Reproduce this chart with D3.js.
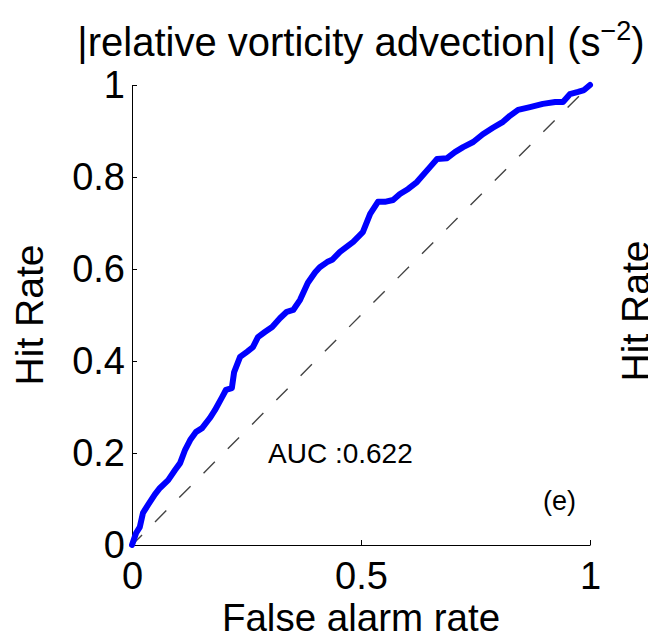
<!DOCTYPE html>
<html lang="en">

<head>
    <meta charset="UTF-8">
    <script src="https://cdnjs.cloudflare.com/ajax/libs/d3/7.9.0/d3.min.js"></script>
    <title>ROC curve</title>
    <style>
        body {
            margin: 0;
            background-color: white;
            font-family: "Liberation Sans", Arial, sans-serif;
        }

        svg {
            display: block;
        }
    </style>
</head>

<body>
    <div id="chart"></div>
    <script>
        const width = 648;
        const height = 638;
        const margin = { top: 85, right: 58, bottom: 93, left: 132 };

        // ROC curve points
        const falseAlarm = [
            0, 0.009, 0.017, 0.024, 0.035, 0.050, 0.061, 0.079, 0.094, 0.105,
            0.116, 0.127, 0.140, 0.153, 0.170, 0.181, 0.197, 0.205, 0.218, 0.223,
            0.236, 0.251, 0.264, 0.275, 0.290, 0.306, 0.323, 0.338, 0.352, 0.367,
            0.384, 0.400, 0.410, 0.426, 0.437, 0.454, 0.483, 0.504, 0.520, 0.537,
            0.552, 0.570, 0.585, 0.603, 0.622, 0.651, 0.666, 0.688, 0.705, 0.723,
            0.745, 0.766, 0.788, 0.810, 0.825, 0.843, 0.869, 0.897, 0.924, 0.941,
            0.956, 0.974, 0.987, 1
        ];
        const hitRate = [
            0, 0.026, 0.039, 0.070, 0.087, 0.110, 0.124, 0.141, 0.163, 0.178,
            0.207, 0.228, 0.246, 0.254, 0.276, 0.293, 0.322, 0.337, 0.341, 0.376,
            0.409, 0.420, 0.430, 0.452, 0.463, 0.474, 0.493, 0.507, 0.511, 0.533,
            0.570, 0.593, 0.604, 0.615, 0.620, 0.637, 0.659, 0.680, 0.720, 0.746,
            0.746, 0.750, 0.763, 0.774, 0.789, 0.822, 0.839, 0.841, 0.854, 0.865,
            0.876, 0.893, 0.907, 0.920, 0.933, 0.946, 0.952, 0.959, 0.963, 0.963,
            0.980, 0.985, 0.989, 1
        ];
        const xTicks = [0, 0.5, 1];
        const yTicks = [0, 0.2, 0.4, 0.6, 0.8, 1];
        const aucLabel = "AUC :0.622";
        const panelLabel = "(e)";

        const svg = d3.select("#chart")
            .append("svg")
            .attr("width", width)
            .attr("height", height);

        const x = d3.scaleLinear()
            .domain([0, 1])
            .range([margin.left, width - margin.right]);

        const y = d3.scaleLinear()
            .domain([0, 1])
            .range([height - margin.bottom, margin.top]);

        // Axes (ticks pointing inward, no box)
        const xAxis = d3.axisBottom(x)
            .tickValues(xTicks)
            .tickFormat(d3.format("~g"))
            .tickSize(-5)
            .tickSizeOuter(0)
            .tickPadding(17);

        const yAxis = d3.axisLeft(y)
            .tickValues(yTicks)
            .tickFormat(d3.format("~g"))
            .tickSize(-5)
            .tickSizeOuter(0)
            .tickPadding(7);

        const gx = svg.append("g")
            .attr("transform", `translate(0,${height - margin.bottom})`)
            .call(xAxis);

        const gy = svg.append("g")
            .attr("transform", `translate(${margin.left},0)`)
            .call(yAxis);

        [gx, gy].forEach(g => {
            g.selectAll("text")
                .attr("font-family", '"Liberation Sans", Arial, sans-serif')
                .attr("font-size", 38)
                .attr("fill", "#000");
            g.selectAll("line, path").attr("stroke", "#000");
        });

        // Chance diagonal
        svg.append("line")
            .attr("x1", x(0))
            .attr("y1", y(0))
            .attr("x2", x(1))
            .attr("y2", y(1))
            .attr("stroke", "#444")
            .attr("stroke-width", 1.4)
            .attr("stroke-dasharray", "16,18.4")
            .attr("stroke-dashoffset", 1.8);

        // ROC curve
        const line = d3.line()
            .x(d => x(d[0]))
            .y(d => y(d[1]));

        svg.append("path")
            .datum(d3.zip(falseAlarm, hitRate))
            .attr("d", line)
            .attr("fill", "none")
            .attr("stroke", "#0000ff")
            .attr("stroke-width", 6)
            .attr("stroke-linejoin", "round")
            .attr("stroke-linecap", "round");

        // Title
        const title = svg.append("text")
            .attr("x", x(0.5))
            .attr("y", 56)
            .attr("text-anchor", "middle")
            .attr("font-size", 40)
            .attr("fill", "#000");
        title.append("tspan").text("|relative vorticity advection| (s");
        title.append("tspan")
            .attr("font-size", 27)
            .attr("dy", -16)
            .text("\u22122");
        title.append("tspan")
            .attr("dy", 16)
            .text(")");

        // Axis labels
        svg.append("text")
            .attr("x", x(0.5))
            .attr("y", 631)
            .attr("text-anchor", "middle")
            .attr("font-size", 38.5)
            .text("False alarm rate");

        svg.append("text")
            .attr("transform", `translate(43,${y(0.5)}) rotate(-90)`)
            .attr("text-anchor", "middle")
            .attr("font-size", 39)
            .text("Hit Rate");

        // neighbouring panel's y label, cut by the edge
        svg.append("text")
            .attr("transform", `translate(649,${y(0.5) - 4}) rotate(-90)`)
            .attr("text-anchor", "middle")
            .attr("font-size", 39)
            .text("Hit Rate");

        // Annotations
        svg.append("text")
            .attr("x", 268)
            .attr("y", 463)
            .attr("font-size", 28)
            .text(aucLabel);

        svg.append("text")
            .attr("x", 543)
            .attr("y", 510)
            .attr("font-size", 27)
            .text(panelLabel);
    </script>
</body>

</html>
